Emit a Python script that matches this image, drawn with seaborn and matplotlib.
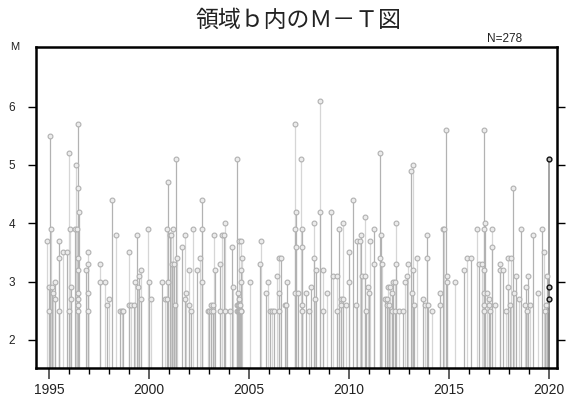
import numpy as np
import pandas as pd
import seaborn as sns
import matplotlib
matplotlib.use("Agg")
import matplotlib.pyplot as plt
from matplotlib.ticker import MultipleLocator

# event times (decimal year) and magnitudes
t = [1994.90, 1994.98, 1995.02, 1995.05, 1995.10, 1995.13, 1995.18, 1995.28, 1995.28, 1995.50,
     1995.50, 1995.52, 1995.72, 1995.88, 1995.98, 1996.02, 1996.05, 1996.08, 1996.10, 1996.32,
     1996.35, 1996.43, 1996.44, 1996.48, 1996.42, 1996.43, 1996.44, 1996.45, 1996.46, 1996.46,
     1996.47, 1996.85, 1996.93, 1996.93, 1996.94, 1996.95, 1997.57, 1997.57, 1997.82, 1997.90,
     1998.02, 1998.15, 1998.35, 1998.57, 1998.65,
     1998.70, 1999.02, 1999.02, 1999.10, 1999.27, 1999.32, 1999.40, 1999.43, 1999.48, 1999.60,
     1999.60, 1999.95, 1999.98, 2000.12, 2000.67, 2000.78, 2000.90, 2000.90, 2000.95, 2000.95,
     2001.07, 2001.12, 2001.15, 2001.18, 2001.27, 2001.32, 2001.37, 2001.40, 2001.65, 2001.78,
     2001.82, 2001.87, 2001.98, 2002.00, 2002.10, 2002.20, 2002.40, 2002.57, 2002.65, 2002.65,
     2002.66, 2002.95,
     2002.98, 2003.08, 2003.12, 2003.20, 2003.22, 2003.23, 2003.32, 2003.53, 2003.57, 2003.65,
     2003.75, 2003.78, 2003.78, 2004.07, 2004.17, 2004.20, 2004.40, 2004.40, 2004.45, 2004.50,
     2004.58, 2004.58, 2004.62, 2004.67,
     2004.42, 2004.44, 2004.46, 2004.48, 2004.49, 2004.51, 2004.52, 2004.53, 2004.55, 2004.56,
     2004.57, 2004.59, 2004.61,
     2005.07, 2005.53, 2005.62, 2005.83, 2005.97, 2006.07, 2006.17, 2006.27, 2006.40, 2006.48,
     2006.50, 2006.60, 2006.48, 2006.78, 2006.87, 2006.92, 2007.32, 2007.32, 2007.32, 2007.37,
     2007.35,
     2007.45, 2007.62, 2007.67, 2007.67, 2007.67, 2007.67, 2007.83, 2008.00, 2008.08, 2008.25,
     2008.25, 2008.30, 2008.33, 2008.55, 2008.55, 2008.72, 2008.72, 2008.92, 2009.12, 2009.18,
     2009.38, 2009.42, 2009.50, 2009.58, 2009.58, 2009.70, 2009.70, 2009.87, 2010.00, 2010.00,
     2010.20, 2010.33, 2010.42, 2010.53, 2010.62, 2010.67, 2010.78, 2010.80, 2010.83, 2010.95,
     2011.00, 2011.03, 2011.25, 2011.25, 2011.55, 2011.55, 2011.62,
     2011.63, 2011.80, 2011.88, 2011.92, 2011.97, 2012.02, 2012.05, 2012.13, 2012.13, 2012.22,
     2012.30, 2012.30, 2012.33, 2012.33, 2012.52, 2012.72, 2012.80, 2012.88, 2012.93, 2013.10,
     2013.17, 2013.18, 2013.20, 2013.25, 2013.38, 2013.72, 2013.80, 2013.88, 2013.92, 2013.97,
     2014.17, 2014.55, 2014.55, 2014.68, 2014.77, 2014.83, 2014.88, 2014.92, 2015.30, 2015.77,
     2015.92,
     2016.10, 2016.40, 2016.52, 2016.65, 2016.77, 2016.77, 2016.77, 2016.77, 2016.77, 2016.77,
     2016.82, 2016.88, 2017.02, 2017.02, 2017.05, 2017.13, 2017.13, 2017.32, 2017.57, 2017.57,
     2017.68, 2017.85, 2017.93, 2017.93, 2018.07, 2018.10, 2018.22, 2018.27, 2018.35, 2018.48,
     2018.60, 2018.80, 2018.85, 2018.88, 2018.93, 2019.07, 2019.18, 2019.43, 2019.65, 2019.77,
     2019.82, 2019.85, 2019.92]

m = [3.7, 2.9, 2.5, 5.5, 3.9, 2.9, 2.8, 3.0, 2.7, 3.7,
     3.4, 2.5, 3.5, 3.5, 5.2, 2.5, 3.9, 2.9, 2.7, 3.9,
     5.0, 5.7, 4.6, 4.2, 3.9, 3.4, 3.2, 2.8, 2.7, 2.6,
     2.5, 3.2, 3.5, 3.3, 2.8, 2.5, 3.3, 3.0, 3.0, 2.6,
     2.7, 4.4, 3.8, 2.5, 2.5,
     2.5, 3.5, 2.6, 2.6, 2.6, 3.0, 3.8, 2.9, 3.1, 3.2,
     2.7, 3.9, 3.0, 2.7, 3.0, 2.7, 2.7, 3.9, 4.7, 3.0,
     3.8, 3.8, 3.3, 3.9, 3.3, 2.6, 5.1, 3.4, 3.6, 3.8,
     2.7, 2.8, 2.6, 3.2, 2.5, 3.9, 3.2, 3.4, 4.4, 3.9,
     3.0, 2.5,
     2.5, 2.5, 2.6, 2.6, 2.5, 3.8, 3.2, 2.5, 3.3, 3.8,
     3.8, 4.0, 2.5, 2.5, 3.6, 2.9, 5.1, 2.6, 2.8, 3.7,
     3.0, 3.7, 3.2, 3.4,
     2.5, 2.6, 2.5, 2.5, 2.7, 2.5, 2.6, 2.5, 2.5, 2.6,
     2.5, 2.5, 2.5,
     3.0, 3.3, 3.7, 2.8, 3.0, 2.5, 2.5, 2.5, 3.1, 2.8,
     3.4, 3.4, 2.5, 2.6, 2.6, 3.0, 5.7, 3.9, 2.8, 4.2,
     3.6,
     2.8, 5.1, 3.9, 3.6, 2.6, 2.5, 2.8, 2.5, 2.9, 4.0,
     3.4, 2.7, 3.2, 6.1, 4.2, 3.2, 2.5, 2.8, 4.2, 3.1,
     2.5, 3.1, 3.9, 2.7, 2.6, 4.0, 2.7, 2.6, 3.5, 3.0,
     4.4, 2.6, 3.7, 3.7, 3.8, 3.1, 3.1, 4.1, 2.5, 2.9,
     2.8, 3.7, 3.9, 3.3, 5.2, 3.4, 3.8,
     3.3, 2.7, 2.6, 2.7, 2.9, 2.6, 2.9, 2.8, 2.5, 3.0,
     3.0, 2.5, 4.0, 3.3, 2.5, 2.5, 3.0, 3.1, 3.3, 4.9,
     2.8, 3.2, 5.0, 2.6, 3.4, 2.7, 2.6, 3.8, 3.4, 2.6,
     2.5, 2.8, 2.6, 3.9, 3.9, 5.6, 3.1, 3.0, 3.0, 3.2,
     3.4,
     3.4, 3.9, 3.3, 3.3, 5.6, 3.9, 3.2, 2.8, 2.6, 2.5,
     4.0, 2.8, 2.7, 2.6, 2.5, 3.9, 3.6, 2.6, 3.3, 3.2,
     3.2, 2.5, 2.9, 3.4, 2.6, 3.4, 4.6, 2.8, 3.1, 2.7,
     3.9, 2.6, 2.9, 2.5, 3.1, 2.6, 3.8, 2.8, 3.9, 3.5,
     2.5, 2.6, 3.1]

# latest events, drawn in black
t_new = [2019.98, 2019.98, 2019.98]
m_new = [5.1, 2.9, 2.7]

df = pd.DataFrame({"t": t, "m": m})
df_new = pd.DataFrame({"t": t_new, "m": m_new})

sns.set_style("white")
plt.rcParams["font.family"] = ["Liberation Sans", "DejaVu Sans"]

fig = plt.figure(figsize=(5.68, 4.01), dpi=100)
ax = fig.add_axes([0.0634, 0.0823, 0.9172, 0.8005])

ymin = 1.52
# stems, two greys alternating like the original
ax.vlines(df["t"][::2], ymin, df["m"][::2], color="#d6d6d6", lw=0.9, zorder=1)
ax.vlines(df["t"][1::2], ymin, df["m"][1::2], color="#b2b2b2", lw=0.9, zorder=1)
ax.vlines(df_new["t"], ymin, df_new["m"], color="#8a8a8a", lw=1.1, zorder=1)

sns.scatterplot(data=df, x="t", y="m", ax=ax, s=12, marker="o",
                facecolor="#ececec", edgecolor="#b0b0b0", linewidth=0.8, zorder=3)
sns.scatterplot(data=df_new, x="t", y="m", ax=ax, s=12, marker="o",
                facecolor="#bbbbbb", edgecolor="#111111", linewidth=1.0, zorder=4)

ax.set_xlim(1994.35, 2020.4)
ax.set_ylim(ymin, 7.02)
ax.set_xlabel("")
ax.set_ylabel("")

ax.set_xticks([1995, 2000, 2005, 2010, 2015, 2020])
ax.xaxis.set_minor_locator(MultipleLocator(1))
ax.set_yticks([2, 3, 4, 5, 6])

for s in ax.spines.values():
    s.set_visible(True)
    s.set_color("black")
    s.set_linewidth(1.8)

ax.tick_params(axis="x", which="major", direction="out", length=8, width=1.2,
               color="#444444", labelsize=10, labelcolor="#222222", pad=3, bottom=True)
ax.tick_params(axis="x", which="minor", direction="out", length=4, width=1.0,
               color="black", bottom=True)
ax.tick_params(axis="y", which="major", direction="out", length=6, width=1.0,
               color="black", labelsize=8.5, labelcolor="#222222", pad=9,
               left=True, right=True)

fig.text(0.025, 0.883, "M", fontsize=8, color="#222222", ha="center", va="center")
ax.text(0.90, 1.006, "N=278", transform=ax.transAxes, fontsize=8.5,
        color="#222222", ha="center", va="bottom")
fig.text(0.525, 0.948, "領域ｂ内のＭ－Ｔ図", fontsize=16.5, color="#222222",
         ha="center", va="center", family=["Noto Sans CJK JP", "DejaVu Sans"])

fig.savefig("out.png", dpi=100)
